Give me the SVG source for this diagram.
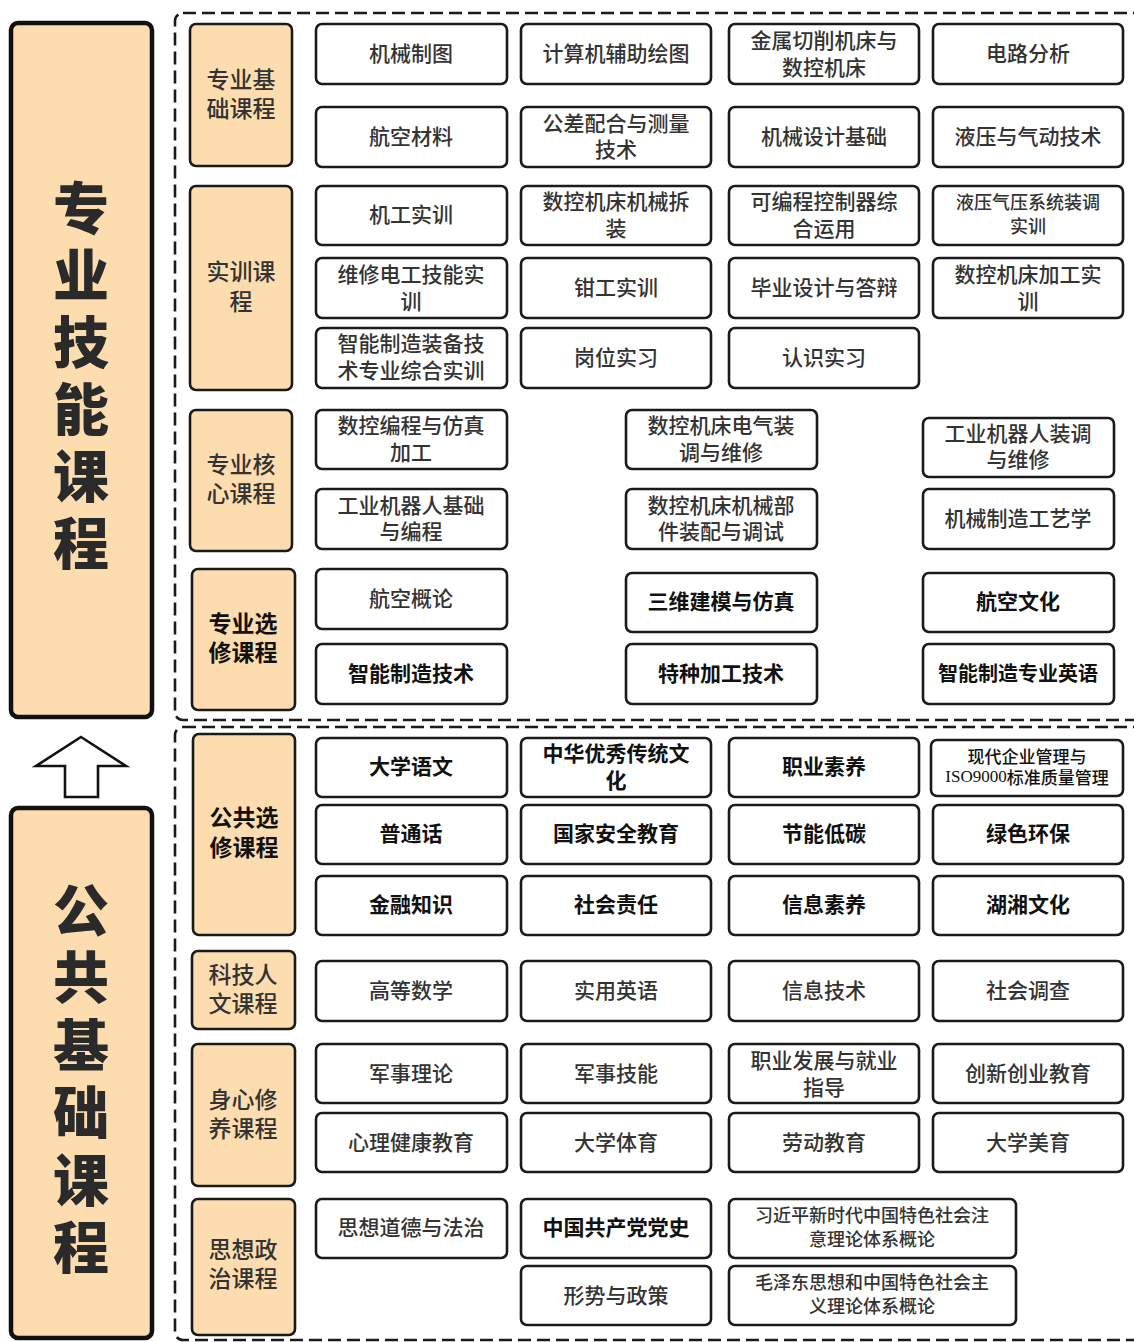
<svg xmlns="http://www.w3.org/2000/svg" width="1134" height="1342" viewBox="0 0 1134 1342">
<style>
.bg{fill:#fff}
.frame{fill:none;stroke:#1a1a1a;stroke-width:2.6;stroke-dasharray:13 6}
.big{fill:#FDDDB0;stroke:#111;stroke-width:4.5}
.cat{fill:#FDDDB0;stroke:#1a1a1a;stroke-width:2.6}
.box{fill:#fff;stroke:#1a1a1a;stroke-width:2.6}
.arrow{fill:#fff;stroke:#111;stroke-width:2.6;stroke-linejoin:miter}
text{font-family:"Noto Sans CJK SC","Noto Sans",sans-serif;text-anchor:middle;dominant-baseline:central}
.t{font-size:21px;fill:#333;font-weight:500}
.s{font-size:18px}
.b{fill:#111;font-weight:700}
.c{font-size:23px;fill:#333;font-weight:500}
.cb{fill:#111;font-weight:700}
.h{font-size:56px;font-weight:900;fill:#2a2a2a}
.mix{font-size:17px;fill:#111;font-weight:500}
.serif{font-family:"Liberation Serif","Noto Sans CJK SC",serif}
</style>
<rect class="bg" x="0" y="0" width="1134" height="1342"/>

<g id="frames">
<rect class="frame" x="175" y="13" width="1000" height="707" rx="8"/>
<rect class="frame" x="175" y="727" width="1000" height="613" rx="8"/>
</g>

<g id="main-professional">
<rect class="big" x="11" y="23" width="141" height="694" rx="7"/>
<text class="h" x="81" y="204">专<tspan x="81" dy="67">业</tspan><tspan x="81" dy="67">技</tspan><tspan x="81" dy="67">能</tspan><tspan x="81" dy="67">课</tspan><tspan x="81" dy="67">程</tspan></text>
</g>

<g id="connectors">
<polygon class="arrow" points="81,737 126,766 98,766 98,797 65,797 65,766 36,766"/>
</g>

<g id="main-public">
<rect class="big" x="11" y="808" width="141" height="530" rx="7"/>
<text class="h" x="81" y="906">公<tspan x="81" dy="67.4">共</tspan><tspan x="81" dy="67.4">基</tspan><tspan x="81" dy="67.4">础</tspan><tspan x="81" dy="67.4">课</tspan><tspan x="81" dy="67.4">程</tspan></text>
</g>

<!-- categories -->
<g id="cat-zyjc"><rect class="cat" x="190" y="24" width="102" height="142" rx="6"/><text class="c" x="241" y="78">专业基<tspan x="241" dy="29">础课程</tspan></text></g>
<g id="cat-sx"><rect class="cat" x="190" y="186" width="102" height="204" rx="6"/><text class="c" x="241" y="270">实训课<tspan x="241" dy="30">程</tspan></text></g>
<g id="cat-zyhx"><rect class="cat" x="190" y="410" width="102" height="141" rx="6"/><text class="c" x="241" y="463">专业核<tspan x="241" dy="29">心课程</tspan></text></g>
<g id="cat-zyxx"><rect class="cat" x="192" y="569" width="103" height="141" rx="6"/><text class="c cb" x="243" y="622">专业选<tspan x="243" dy="29">修课程</tspan></text></g>
<g id="cat-ggxx"><rect class="cat" x="193" y="734" width="102" height="201" rx="6"/><text class="c cb" x="244" y="816">公共选<tspan x="244" dy="30">修课程</tspan></text></g>
<g id="cat-kjrw"><rect class="cat" x="192" y="951" width="103" height="78" rx="6"/><text class="c" x="243" y="973">科技人<tspan x="243" dy="29">文课程</tspan></text></g>
<g id="cat-sxxy"><rect class="cat" x="192" y="1044" width="103" height="142" rx="6"/><text class="c" x="243" y="1098">身心修<tspan x="243" dy="29">养课程</tspan></text></g>
<g id="cat-sxzz"><rect class="cat" x="192" y="1199" width="103" height="136" rx="6"/><text class="c" x="243" y="1248">思想政<tspan x="243" dy="29">治课程</tspan></text></g>

<!-- 专业基础课程 -->
<g id="n-jxzt"><rect class="box" x="316" y="24" width="191" height="60" rx="6"/><text class="t" x="411" y="52">机械制图</text></g>
<g id="n-jsjfzht"><rect class="box" x="521" y="24" width="190" height="60" rx="6"/><text class="t" x="616" y="52">计算机辅助绘图</text></g>
<g id="n-jsqx"><rect class="box" x="729" y="24" width="190" height="60" rx="6"/><text class="t" x="824" y="39">金属切削机床与<tspan x="824" dy="27">数控机床</tspan></text></g>
<g id="n-dlfx"><rect class="box" x="933" y="24" width="190" height="60" rx="6"/><text class="t" x="1028" y="52">电路分析</text></g>
<g id="n-hkcl"><rect class="box" x="316" y="107" width="191" height="60" rx="6"/><text class="t" x="411" y="135">航空材料</text></g>
<g id="n-gcph"><rect class="box" x="521" y="107" width="190" height="60" rx="6"/><text class="t" x="616" y="122">公差配合与测量<tspan x="616" dy="26">技术</tspan></text></g>
<g id="n-jxsj"><rect class="box" x="729" y="107" width="190" height="60" rx="6"/><text class="t" x="824" y="135">机械设计基础</text></g>
<g id="n-yyqd"><rect class="box" x="933" y="107" width="190" height="60" rx="6"/><text class="t" x="1028" y="135">液压与气动技术</text></g>

<!-- 实训课程 -->
<g id="n-jgsx"><rect class="box" x="316" y="186" width="191" height="59" rx="6"/><text class="t" x="411" y="213">机工实训</text></g>
<g id="n-skcz"><rect class="box" x="521" y="186" width="190" height="59" rx="6"/><text class="t" x="616" y="200">数控机床机械拆<tspan x="616" dy="27">装</tspan></text></g>
<g id="n-kbc"><rect class="box" x="729" y="186" width="190" height="59" rx="6"/><text class="t" x="824" y="200">可编程控制器综<tspan x="824" dy="27">合运用</tspan></text></g>
<g id="n-yqzt"><rect class="box" x="933" y="186" width="190" height="59" rx="6"/><text class="t s" x="1028" y="201">液压气压系统装调<tspan x="1028" dy="24">实训</tspan></text></g>
<g id="n-wxdg"><rect class="box" x="316" y="258" width="191" height="60" rx="6"/><text class="t" x="411" y="273">维修电工技能实<tspan x="411" dy="27">训</tspan></text></g>
<g id="n-qgsx"><rect class="box" x="521" y="258" width="190" height="60" rx="6"/><text class="t" x="616" y="286">钳工实训</text></g>
<g id="n-bysj"><rect class="box" x="729" y="258" width="190" height="60" rx="6"/><text class="t" x="824" y="286">毕业设计与答辩</text></g>
<g id="n-skjg"><rect class="box" x="933" y="258" width="190" height="60" rx="6"/><text class="t" x="1028" y="273">数控机床加工实<tspan x="1028" dy="27">训</tspan></text></g>
<g id="n-znzb"><rect class="box" x="316" y="328" width="191" height="60" rx="6"/><text class="t" x="411" y="342">智能制造装备技<tspan x="411" dy="27">术专业综合实训</tspan></text></g>
<g id="n-gwsx"><rect class="box" x="521" y="328" width="190" height="60" rx="6"/><text class="t" x="616" y="356">岗位实习</text></g>
<g id="n-rssx"><rect class="box" x="729" y="328" width="190" height="60" rx="6"/><text class="t" x="824" y="356">认识实习</text></g>

<!-- 专业核心课程 -->
<g id="n-skbc"><rect class="box" x="316" y="410" width="191" height="59" rx="6"/><text class="t" x="411" y="424">数控编程与仿真<tspan x="411" dy="27">加工</tspan></text></g>
<g id="n-gyjqr"><rect class="box" x="316" y="489" width="191" height="60" rx="6"/><text class="t" x="411" y="504">工业机器人基础<tspan x="411" dy="26">与编程</tspan></text></g>
<g id="n-skdq"><rect class="box" x="626" y="410" width="191" height="59" rx="6"/><text class="t" x="721" y="424">数控机床电气装<tspan x="721" dy="27">调与维修</tspan></text></g>
<g id="n-skjxbj"><rect class="box" x="626" y="489" width="191" height="60" rx="6"/><text class="t" x="721" y="504">数控机床机械部<tspan x="721" dy="26">件装配与调试</tspan></text></g>
<g id="n-gyjqrzt"><rect class="box" x="923" y="418" width="191" height="59" rx="6"/><text class="t" x="1018" y="432">工业机器人装调<tspan x="1018" dy="26">与维修</tspan></text></g>
<g id="n-jxzzgy"><rect class="box" x="923" y="489" width="191" height="60" rx="6"/><text class="t" x="1018" y="517">机械制造工艺学</text></g>

<!-- 专业选修课程 -->
<g id="n-hkgl"><rect class="box" x="316" y="569" width="191" height="60" rx="6"/><text class="t" x="411" y="597">航空概论</text></g>
<g id="n-znzzjs"><rect class="box" x="316" y="644" width="191" height="60" rx="6"/><text class="t b" x="411" y="672">智能制造技术</text></g>
<g id="n-swjm"><rect class="box" x="626" y="573" width="191" height="59" rx="6"/><text class="t b" x="721" y="600">三维建模与仿真</text></g>
<g id="n-tzjg"><rect class="box" x="626" y="644" width="191" height="60" rx="6"/><text class="t b" x="721" y="672">特种加工技术</text></g>
<g id="n-hkwh"><rect class="box" x="923" y="573" width="191" height="59" rx="6"/><text class="t b" x="1018" y="600">航空文化</text></g>
<g id="n-zyyy"><rect class="box" x="923" y="644" width="191" height="60" rx="6"/><text class="t b" x="1018" y="672" style="font-size:20px">智能制造专业英语</text></g>

<!-- 公共选修课程 -->
<g id="n-dxyw"><rect class="box" x="316" y="738" width="191" height="59" rx="6"/><text class="t b" x="411" y="765">大学语文</text></g>
<g id="n-zhyx"><rect class="box" x="521" y="738" width="190" height="59" rx="6"/><text class="t b" x="616" y="752">中华优秀传统文<tspan x="616" dy="27">化</tspan></text></g>
<g id="n-zysy"><rect class="box" x="729" y="738" width="190" height="59" rx="6"/><text class="t b" x="824" y="765">职业素养</text></g>
<g id="n-xdqy"><rect class="box" x="931" y="740" width="192" height="56" rx="6"/><text class="mix" x="1027" y="755">现代企业管理与<tspan x="1027" dy="21"><tspan class="serif">ISO9000</tspan>标准质量管理</tspan></text></g>
<g id="n-pth"><rect class="box" x="316" y="805" width="191" height="59" rx="6"/><text class="t b" x="411" y="832">普通话</text></g>
<g id="n-gjaq"><rect class="box" x="521" y="805" width="190" height="59" rx="6"/><text class="t b" x="616" y="832">国家安全教育</text></g>
<g id="n-jndt"><rect class="box" x="729" y="805" width="190" height="59" rx="6"/><text class="t b" x="824" y="832">节能低碳</text></g>
<g id="n-lshb"><rect class="box" x="933" y="805" width="190" height="59" rx="6"/><text class="t b" x="1028" y="832">绿色环保</text></g>
<g id="n-jrzs"><rect class="box" x="316" y="876" width="191" height="59" rx="6"/><text class="t b" x="411" y="903">金融知识</text></g>
<g id="n-shzr"><rect class="box" x="521" y="876" width="190" height="59" rx="6"/><text class="t b" x="616" y="903">社会责任</text></g>
<g id="n-xxsy"><rect class="box" x="729" y="876" width="190" height="59" rx="6"/><text class="t b" x="824" y="903">信息素养</text></g>
<g id="n-hxwh"><rect class="box" x="933" y="876" width="190" height="59" rx="6"/><text class="t b" x="1028" y="903">湖湘文化</text></g>

<!-- 科技人文课程 -->
<g id="n-gdsx"><rect class="box" x="316" y="961" width="191" height="60" rx="6"/><text class="t" x="411" y="989">高等数学</text></g>
<g id="n-syyy"><rect class="box" x="521" y="961" width="190" height="60" rx="6"/><text class="t" x="616" y="989">实用英语</text></g>
<g id="n-xxjs"><rect class="box" x="729" y="961" width="190" height="60" rx="6"/><text class="t" x="824" y="989">信息技术</text></g>
<g id="n-shdc"><rect class="box" x="933" y="961" width="190" height="60" rx="6"/><text class="t" x="1028" y="989">社会调查</text></g>

<!-- 身心修养课程 -->
<g id="n-jsll"><rect class="box" x="316" y="1044" width="191" height="59" rx="6"/><text class="t" x="411" y="1072">军事理论</text></g>
<g id="n-jsjn"><rect class="box" x="521" y="1044" width="190" height="59" rx="6"/><text class="t" x="616" y="1072">军事技能</text></g>
<g id="n-zyfz"><rect class="box" x="729" y="1044" width="190" height="59" rx="6"/><text class="t" x="824" y="1059">职业发展与就业<tspan x="824" dy="27">指导</tspan></text></g>
<g id="n-cxcy"><rect class="box" x="933" y="1044" width="190" height="59" rx="6"/><text class="t" x="1028" y="1072">创新创业教育</text></g>
<g id="n-xljk"><rect class="box" x="316" y="1113" width="191" height="59" rx="6"/><text class="t" x="411" y="1141">心理健康教育</text></g>
<g id="n-dxty"><rect class="box" x="521" y="1113" width="190" height="59" rx="6"/><text class="t" x="616" y="1141">大学体育</text></g>
<g id="n-ldjy"><rect class="box" x="729" y="1113" width="190" height="59" rx="6"/><text class="t" x="824" y="1141">劳动教育</text></g>
<g id="n-dxmy"><rect class="box" x="933" y="1113" width="190" height="59" rx="6"/><text class="t" x="1028" y="1141">大学美育</text></g>

<!-- 思想政治课程 -->
<g id="n-sxdd"><rect class="box" x="316" y="1199" width="191" height="59" rx="6"/><text class="t" x="411" y="1226">思想道德与法治</text></g>
<g id="n-dangshi"><rect class="box" x="521" y="1199" width="190" height="59" rx="6"/><text class="t b" x="616" y="1226">中国共产党党史</text></g>
<g id="n-xszc"><rect class="box" x="521" y="1266" width="190" height="59" rx="6"/><text class="t" x="616" y="1294">形势与政策</text></g>
<g id="n-xjp"><rect class="box" x="729" y="1199" width="287" height="59" rx="6"/><text class="t s" x="872" y="1214">习近平新时代中国特色社会注<tspan x="872" dy="24">意理论体系概论</tspan></text></g>
<g id="n-mzd"><rect class="box" x="729" y="1266" width="287" height="59" rx="6"/><text class="t s" x="872" y="1281">毛泽东思想和中国特色社会主<tspan x="872" dy="24">义理论体系概论</tspan></text></g>
</svg>
